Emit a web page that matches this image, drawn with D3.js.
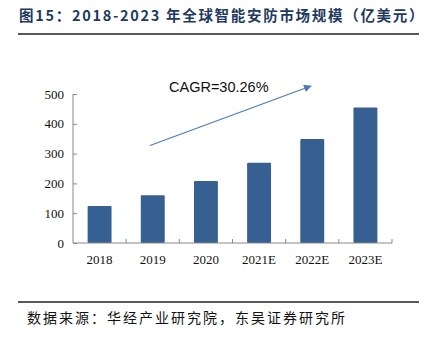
<!DOCTYPE html>
<html>
<head>
<meta charset="utf-8">
<script src="https://cdn.jsdelivr.net/npm/d3@7"></script>
<style>
  body { margin: 0; background: #fff; }
  svg { display: block; }
</style>
</head>
<body>
<div id="graf"></div>
<script>
// datos
const categorias = ['2018', '2019', '2020', '2021E', '2022E', '2023E']
const valores = [124, 160, 208, 269, 349, 455]
const ticksY = [0, 100, 200, 300, 400, 500]
const titulo = '图15：2018-2023 年全球智能安防市场规模（亿美元）'
const fuente = '数据来源：华经产业研究院，东吴证券研究所'
const anotacion = 'CAGR=30.26%'

const W = 427, H = 343
const svg = d3.select('#graf').append('svg')
  .attr('width', W).attr('height', H)

// título y líneas
svg.append('text')
  .attr('x', 19).attr('y', 21)
  .attr('font-family', '"Noto Sans CJK SC", "Liberation Serif", serif')
  .attr('font-weight', 'bold')
  .attr('font-size', '14.5px')
  .attr('letter-spacing', '1.7px')
  .attr('fill', '#1f3a5f')
  .text(titulo)

svg.append('line')
  .attr('x1', 18).attr('x2', 419).attr('y1', 34).attr('y2', 34)
  .attr('stroke', '#222').attr('stroke-width', 1.5)

svg.append('line')
  .attr('x1', 18).attr('x2', 419).attr('y1', 302).attr('y2', 302)
  .attr('stroke', '#222').attr('stroke-width', 1.5)

svg.append('text')
  .attr('x', 27).attr('y', 323)
  .attr('font-family', '"Noto Sans CJK SC", sans-serif')
  .attr('font-size', '14px')
  .attr('letter-spacing', '2px')
  .attr('fill', '#111')
  .text(fuente)

// escalas
const x = d3.scaleBand()
  .domain(categorias)
  .range([73, 392])
  .paddingInner(0.55)
  .paddingOuter(0.275)

const y = d3.scaleLinear()
  .domain([0, 500])
  .range([243, 94])

// barras
svg.selectAll('rect.barra')
  .data(valores)
  .enter().append('rect')
  .attr('class', 'barra')
  .attr('x', (d, i) => x(categorias[i]))
  .attr('width', x.bandwidth())
  .attr('y', d => y(d))
  .attr('height', d => y(0) - y(d))
  .attr('rx', 1)
  .attr('fill', '#365f92')

// eje y
const ejeY = svg.append('g')
  .attr('transform', 'translate(73,0)')
  .call(d3.axisRight(y).tickValues(ticksY).tickSize(4).tickFormat(''))
ejeY.select('.domain').remove()
ejeY.append('line')
  .attr('x1', 0).attr('x2', 0).attr('y1', y(500)).attr('y2', y(0))
  .attr('stroke', '#888')
ejeY.selectAll('.tick line').attr('stroke', '#888')

svg.selectAll('text.ytick')
  .data(ticksY)
  .enter().append('text')
  .attr('class', 'ytick')
  .attr('x', 64)
  .attr('y', d => y(d) + 4.5)
  .attr('text-anchor', 'end')
  .attr('font-family', '"Liberation Serif", serif')
  .attr('font-size', '13px')
  .attr('fill', '#111')
  .text(d => d)

// eje x
svg.append('line')
  .attr('x1', 73).attr('x2', 392).attr('y1', y(0)).attr('y2', y(0))
  .attr('stroke', '#888')

const step = x.step()
svg.selectAll('line.xtick')
  .data(categorias)
  .enter().append('line')
  .attr('class', 'xtick')
  .attr('x1', (d, i) => 73 + step * (i + 1))
  .attr('x2', (d, i) => 73 + step * (i + 1))
  .attr('y1', y(0)).attr('y2', y(0) - 4)
  .attr('stroke', '#888')

svg.selectAll('text.xlab')
  .data(categorias)
  .enter().append('text')
  .attr('class', 'xlab')
  .attr('x', d => x(d) + x.bandwidth() / 2)
  .attr('y', 264)
  .attr('text-anchor', 'middle')
  .attr('font-family', '"Liberation Serif", serif')
  .attr('font-size', '13px')
  .attr('fill', '#111')
  .text(d => d)

// flecha CAGR
svg.append('defs').append('marker')
  .attr('id', 'punta')
  .attr('viewBox', '0 0 10 10')
  .attr('refX', 9).attr('refY', 5)
  .attr('markerWidth', 6).attr('markerHeight', 6)
  .attr('orient', 'auto')
  .append('path')
  .attr('d', 'M0,0 L10,5 L0,10 Z')
  .attr('fill', '#4a7ebb')

svg.append('line')
  .attr('x1', 150).attr('y1', 145.5)
  .attr('x2', 311).attr('y2', 86)
  .attr('stroke', '#4a7ebb')
  .attr('stroke-width', 1.3)
  .attr('marker-end', 'url(#punta)')

svg.append('text')
  .attr('x', 169).attr('y', 92)
  .attr('font-family', '"Liberation Sans", Arial, sans-serif')
  .attr('font-size', '14.5px')
  .attr('fill', '#111')
  .text(anotacion)
</script>
</body>
</html>
